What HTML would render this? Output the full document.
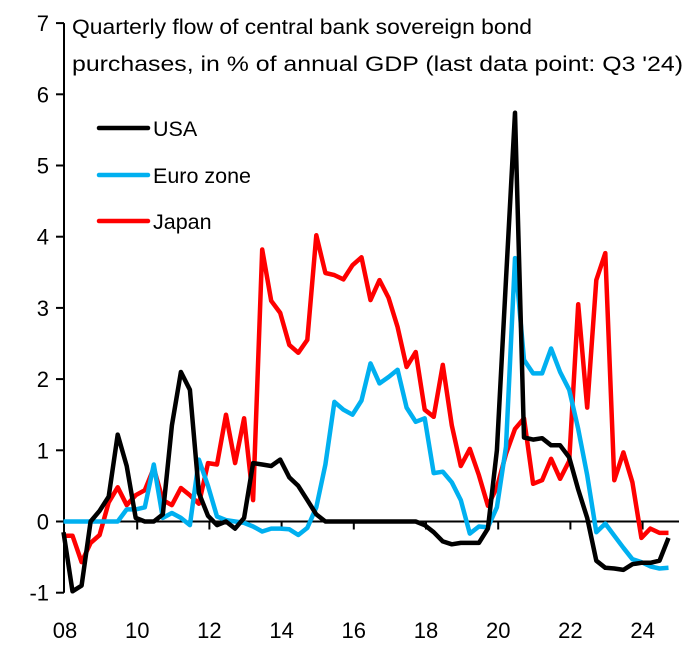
<!DOCTYPE html>
<html><head><meta charset="utf-8"><style>
html,body{margin:0;padding:0;background:#fff;}
svg{display:block;font-family:"Liberation Sans",sans-serif;}
</style></head><body>
<svg id="chart" width="695" height="648" viewBox="0 0 695 648" xmlns="http://www.w3.org/2000/svg">
<text x="72" y="34" font-size="21.5" fill="#000" textLength="460" lengthAdjust="spacingAndGlyphs">Quarterly flow of central bank sovereign bond</text>
<text x="72" y="71" font-size="21.5" fill="#000" textLength="611" lengthAdjust="spacingAndGlyphs">purchases, in % of annual GDP (last data point: Q3 '24)</text>
<g>
<line x1="99" y1="128" x2="148" y2="128" stroke="#000" stroke-width="4.5" stroke-linecap="round"/>
<text x="153" y="136" font-size="21.5">USA</text>
<line x1="99" y1="175" x2="148" y2="175" stroke="#00B0F0" stroke-width="4.5" stroke-linecap="round"/>
<text x="153" y="183" font-size="21.5">Euro zone</text>
<line x1="99" y1="221" x2="148" y2="221" stroke="#FF0000" stroke-width="4.5" stroke-linecap="round"/>
<text x="153" y="229" font-size="21.5">Japan</text>
</g>
</svg>
<script>
const yTicks = [-1,0,1,2,3,4,5,6,7];
const xTickYears = [2008,2010,2012,2014,2016,2018,2020,2022,2024];
const xTickLabels = ["08","10","12","14","16","18","20","22","24"];
const usa = [-0.15,-0.98,-0.9,0,0.15,0.35,1.22,0.78,0.05,0,0,0.1,1.35,2.1,1.85,0.4,0.08,-0.05,0,-0.1,0.05,0.82,0.8,0.78,0.87,0.62,0.5,0.3,0.1,0,0,0,0,0,0,0,0,0,0,0,-0.05,-0.15,-0.28,-0.32,-0.3,-0.3,-0.3,-0.1,1.0,3.4,5.74,1.18,1.15,1.17,1.07,1.07,0.9,0.45,0.05,-0.55,-0.65,-0.66,-0.68,-0.6,-0.58,-0.58,-0.55,-0.23];
const euro = [0,0,0,0,0,0,0,0.17,0.17,0.2,0.8,0.05,0.12,0.05,-0.05,0.87,0.5,0.07,0.02,0,-0.02,-0.07,-0.14,-0.1,-0.1,-0.11,-0.19,-0.09,0.2,0.8,1.68,1.57,1.5,1.7,2.22,1.94,2.03,2.13,1.6,1.4,1.45,0.68,0.7,0.55,0.3,-0.17,-0.07,-0.08,0.2,1.05,3.7,2.27,2.08,2.08,2.43,2.1,1.85,1.3,0.65,-0.15,-0.03,-0.2,-0.37,-0.53,-0.57,-0.63,-0.66,-0.65];
const japan = [-0.2,-0.2,-0.57,-0.3,-0.19,0.27,0.48,0.23,0.37,0.44,0.75,0.3,0.23,0.47,0.37,0.25,0.82,0.8,1.5,0.82,1.45,0.3,3.82,3.1,2.93,2.48,2.37,2.55,4.02,3.49,3.46,3.4,3.6,3.71,3.11,3.39,3.14,2.73,2.17,2.38,1.57,1.47,2.2,1.35,0.78,1.02,0.65,0.22,0.48,0.95,1.3,1.45,0.53,0.58,0.88,0.6,0.85,3.05,1.6,3.39,3.77,0.58,0.97,0.55,-0.23,-0.1,-0.16,-0.16];

const NS = "http://www.w3.org/2000/svg";
const svg = document.getElementById('chart');
const y0 = 521.5, yUnit = 71.2;
function yScale(v){ return y0 - v*yUnit; }
function xYear(yr){ return 65 + (yr-2008)*36.1; }
function xIdx(i){ return 63.5 + i*9.03; }
function mk(tag, attrs){ const e=document.createElementNS(NS,tag); for(const k in attrs) e.setAttribute(k,attrs[k]); svg.appendChild(e); return e; }

const ya = mk('line',{x1:64,y1:yScale(7),x2:64,y2:yScale(-1),stroke:'#000','stroke-width':2});


yTicks.forEach(v=>{
  const t = mk('line',{x1:56,y1:yScale(v),x2:64,y2:yScale(v),stroke:'#000','stroke-width':2});
  
  
  const l = mk('text',{x:49,y:yScale(v)+8,'font-size':22,'text-anchor':'end'});
  
  
  l.textContent = String(v);
});
const xa = mk('line',{x1:64,y1:y0,x2:679,y2:y0,stroke:'#000','stroke-width':2});


xTickYears.forEach((yr,k)=>{
  if(k>0){
    const t = mk('line',{x1:xYear(yr),y1:y0,x2:xYear(yr),y2:y0+8,stroke:'#000','stroke-width':2});
    
    
  }
  const l = mk('text',{x:xYear(yr),y:638,'font-size':22,'text-anchor':'middle'});
  
  
  l.textContent = xTickLabels[k];
});
function series(data,color,name){
  const d = data.map((v,i)=>(i?'L':'M')+xIdx(i).toFixed(1)+','+yScale(v).toFixed(1)).join(' ');
  const p = mk('path',{d:d,fill:'none',stroke:color,'stroke-width':4.5,'stroke-linejoin':'round'});
  
  
}
series(japan,'#FF0000','japan-line');
series(euro,'#00B0F0','euro-zone-line');
series(usa,'#000000','usa-line');
</script>
</body></html>
